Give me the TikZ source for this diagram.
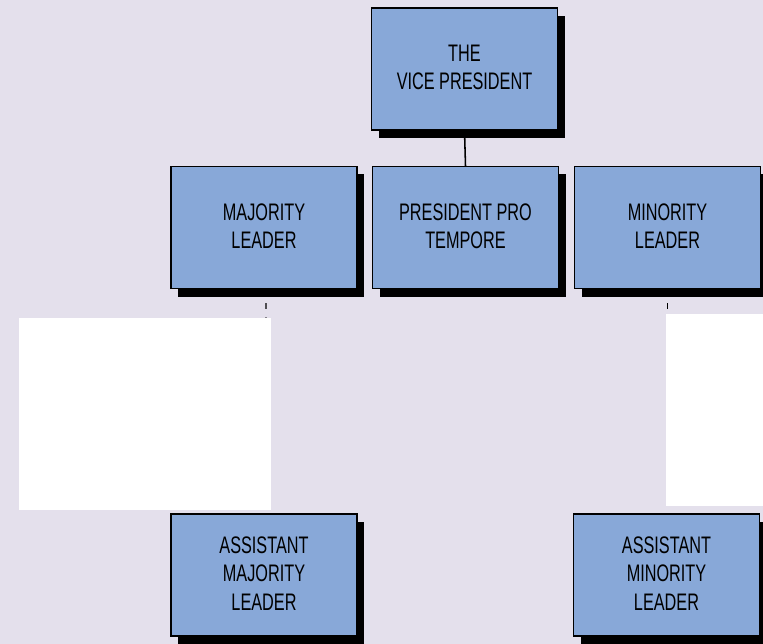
\documentclass[tikz,border=0pt]{standalone}
\usepackage{fontspec}
\newfontfamily\orgfont[FakeStretch=0.68]{Liberation Sans}
\usepackage{tikz}
\usetikzlibrary{shadows}
\definecolor{paper}{RGB}{228,224,236}
\definecolor{boxB}{RGB}{136,168,216}

\begin{document}
\begin{tikzpicture}[x=0.025cm, y=-0.025cm, font=\orgfont\fontsize{17}{20}\selectfont]
  % canvas
  \fill[paper] (0,0) rectangle (763,644);
  \useasboundingbox (0,0) rectangle (763,644);

  % offices
  \tikzstyle{post}=[draw=black, line width=0.9pt, fill=boxB, align=center, inner sep=0pt,
        minimum width=4.65cm, minimum height=3.05cm, text depth=2pt,
        drop shadow={shadow xshift=0.18cm, shadow yshift=-0.2cm, fill=black, opacity=1}]
  \node[post] (vp)   at (464.5,69)  {THE\\VICE PRESIDENT};
  \node[post] (maj)  at (264,227.5) {MAJORITY\\LEADER};
  \node[post] (ppt)  at (465.5,227.5) {PRESIDENT PRO\\TEMPORE};
  \node[post] (min)  at (667.5,227.5) {MINORITY\\LEADER};
  \node[post] (amaj) at (264,575)   {ASSISTANT\\MAJORITY\\LEADER};
  \node[post] (amin) at (666.5,575) {ASSISTANT\\MINORITY\\LEADER};

  % links
  \draw[line width=1.1pt] (vp.south) -- (ppt.north);
  \coordinate (majend) at (266,318);
  \coordinate (minend) at (667.5,314);
  \draw[line width=1pt, dash pattern=on 4 off 6] ([xshift=0.05cm]maj.south) -- (majend);
  \draw[line width=1pt, dash pattern=on 4 off 6] (min.south) -- (minend);

  % blanked areas
  \fill[white] (19,318) rectangle (271,510);
  \fill[white] (666,314) rectangle (763,506);
\end{tikzpicture}
\end{document}
